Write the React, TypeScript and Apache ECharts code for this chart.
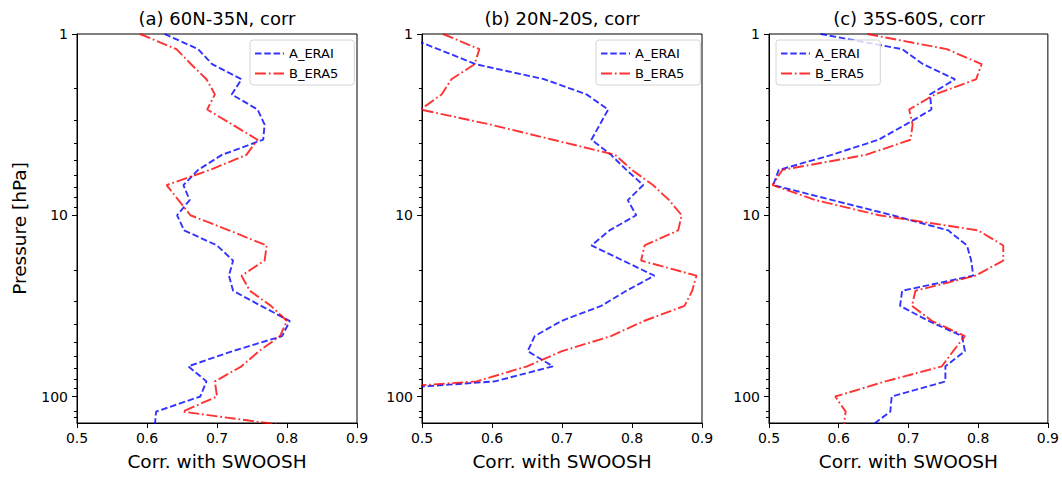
import React, { useEffect, useRef } from "react";
import * as echarts from "echarts";

// SWOOSH pressure levels (hPa)
const pressure = [
  1.0, 1.212, 1.468, 1.778, 2.154, 2.61, 3.162, 3.831, 4.642, 5.623, 6.813, 8.254,
  10.0, 12.115, 14.678, 17.783, 21.544, 26.102, 31.623, 38.312, 46.416, 56.234, 68.129, 82.54,
  100.0, 121.153, 146.78,
];

const panelTitles = ["(a) 60N-35N, corr", "(b) 20N-20S, corr", "(c) 35S-60S, corr"];
const seriesNames = ["A_ERAI", "B_ERA5"];

const a_ERAI = [0.625, 0.673, 0.693, 0.735, 0.721, 0.758, 0.768, 0.766, 0.707, 0.673, 0.652, 0.661, 0.643, 0.653, 0.7, 0.723, 0.717, 0.723, 0.763, 0.804, 0.793, 0.722, 0.659, 0.685, 0.676, 0.613, 0.611];
const a_ERA5 = [0.59, 0.642, 0.663, 0.685, 0.697, 0.686, 0.722, 0.758, 0.742, 0.69, 0.628, 0.645, 0.662, 0.717, 0.771, 0.768, 0.735, 0.747, 0.777, 0.8, 0.79, 0.76, 0.735, 0.697, 0.7, 0.651, 0.81];
const b_ERAI = [0.469, 0.523, 0.577, 0.675, 0.735, 0.766, 0.754, 0.742, 0.77, 0.792, 0.816, 0.794, 0.806, 0.768, 0.742, 0.787, 0.832, 0.792, 0.756, 0.699, 0.661, 0.651, 0.687, 0.604, 0.3, 0.25, 0.25];
const b_ERA5 = [0.53, 0.582, 0.575, 0.542, 0.528, 0.498, 0.598, 0.687, 0.776, 0.8, 0.83, 0.853, 0.871, 0.866, 0.818, 0.813, 0.892, 0.886, 0.875, 0.817, 0.77, 0.7, 0.65, 0.578, 0.27, 0.25, 0.25];
const c_ERAI = [0.574, 0.691, 0.721, 0.767, 0.731, 0.733, 0.696, 0.657, 0.59, 0.514, 0.506, 0.591, 0.677, 0.757, 0.784, 0.79, 0.793, 0.691, 0.688, 0.729, 0.777, 0.781, 0.753, 0.753, 0.676, 0.674, 0.645];
const c_ERA5 = [0.641, 0.755, 0.805, 0.797, 0.738, 0.701, 0.706, 0.703, 0.639, 0.519, 0.505, 0.567, 0.658, 0.8, 0.836, 0.836, 0.796, 0.71, 0.705, 0.734, 0.781, 0.764, 0.748, 0.667, 0.595, 0.61, 0.607];

const panelData = [
  [a_ERAI, a_ERA5],
  [b_ERAI, b_ERA5],
  [c_ERAI, c_ERA5],
];

const yMajorTicks = [1, 10, 100];
const yMinorTicks = [2, 3, 4, 5, 6, 7, 8, 9, 20, 30, 40, 50, 60, 70, 80, 90, 120, 130];

const FONT = "DejaVu Sans";
const gridLefts = [77, 422, 769];
const legendLefts = [250, 596, 776];
const GRID_TOP = 34;
const GRID_W = 280;
const GRID_H = 389;

const lineStyles = [
  { color: "#0000ff", type: [6.5, 2.8] },
  { color: "#ff0000", type: [11, 2.8, 1.8, 2.8] },
];

function buildOption() {
  const grid = gridLefts.map((l) => ({
    left: l,
    top: GRID_TOP,
    width: GRID_W,
    height: GRID_H,
    show: true,
    borderColor: "#000",
    borderWidth: 1,
    backgroundColor: "transparent",
  }));

  const xAxis = gridLefts.map((_, i) => ({
    type: "value",
    gridIndex: i,
    min: 0.5,
    max: 0.9,
    interval: 0.1,
    axisLine: { show: true, lineStyle: { color: "#000", width: 1 } },
    axisTick: { show: true, length: 5, lineStyle: { color: "#000" } },
    axisLabel: {
      formatter: (v: number) => v.toFixed(1),
      fontSize: 14,
      color: "#000",
      fontFamily: FONT,
      margin: 8,
      showMinLabel: true,
      showMaxLabel: true,
    },
    splitLine: { show: false },
    name: "Corr. with SWOOSH",
    nameLocation: "middle",
    nameGap: 29,
    nameTextStyle: { fontSize: 18.5, color: "#000", fontFamily: FONT },
  }));

  const yAxis: any[] = [];
  gridLefts.forEach((_, i) => {
    yAxis.push({
      type: "log",
      logBase: 10,
      gridIndex: i,
      min: 1,
      max: 140,
      inverse: true,
      axisLine: { show: true, lineStyle: { color: "#000", width: 1 } },
      axisTick: { show: true, length: 5, customValues: yMajorTicks, lineStyle: { color: "#000" } },
      axisLabel: {
        customValues: yMajorTicks,
        formatter: (v: number) => String(Math.round(v)),
        fontSize: 14,
        color: "#000",
        fontFamily: FONT,
        margin: 9,
      },
      splitLine: { show: false },
      minorTick: { show: false },
      name: i === 0 ? "Pressure [hPa]" : "",
      nameLocation: "middle",
      nameGap: 48,
      nameTextStyle: { fontSize: 18.5, color: "#000", fontFamily: FONT },
    });
    yAxis.push({
      type: "log",
      logBase: 10,
      gridIndex: i,
      position: "left",
      offset: 0,
      min: 1,
      max: 140,
      inverse: true,
      axisLine: { show: false },
      axisTick: { show: true, length: 3, customValues: yMinorTicks, lineStyle: { color: "#000" } },
      axisLabel: { show: false },
      splitLine: { show: false },
    });
  });

  const series: any[] = [];
  panelData.forEach((pair, i) => {
    pair.forEach((vals, j) => {
      series.push({
        type: "line",
        name: seriesNames[j],
        xAxisIndex: i,
        yAxisIndex: 2 * i,
        data: vals.map((v, k) => [v, pressure[k]]),
        symbol: "none",
        showSymbol: false,
        clip: true,
        silent: true,
        itemStyle: { color: lineStyles[j].color },
        lineStyle: {
          color: lineStyles[j].color,
          width: 1.9,
          type: lineStyles[j].type,
          opacity: 0.8,
        },
      });
    });
  });

  const legend = legendLefts.map((l) => ({
    left: l,
    top: 40,
    orient: "vertical",
    data: seriesNames,
    itemWidth: 29,
    itemHeight: 14,
    itemGap: 7,
    padding: [7, 16, 5, 4],
    borderColor: "#d4d4d4",
    borderWidth: 1,
    borderRadius: 3,
    backgroundColor: "rgba(255,255,255,0.8)",
    selectedMode: false,
    itemStyle: { opacity: 0 },
    textStyle: { fontSize: 13, color: "#000", fontFamily: FONT },
  }));

  const graphic = panelTitles.map((t, i) => ({
    type: "text",
    x: gridLefts[i] + GRID_W / 2,
    y: 18,
    style: {
      text: t,
      align: "center",
      verticalAlign: "middle",
      fill: "#000",
      font: `18px "${FONT}"`,
    },
  }));

  return {
    animation: false,
    backgroundColor: "#fff",
    textStyle: { fontFamily: FONT },
    grid,
    xAxis,
    yAxis,
    series,
    legend,
    graphic,
  };
}

export default function App() {
  const ref = useRef<HTMLDivElement>(null);
  useEffect(() => {
    if (!ref.current) return;
    const chart = echarts.init(ref.current, null, { renderer: "svg" });
    chart.setOption(buildOption() as any);
    return () => chart.dispose();
  }, []);
  return (
    <div
      ref={ref}
      style={{ position: "fixed", left: 0, top: 0, width: 1062, height: 477, background: "#fff" }}
    />
  );
}
